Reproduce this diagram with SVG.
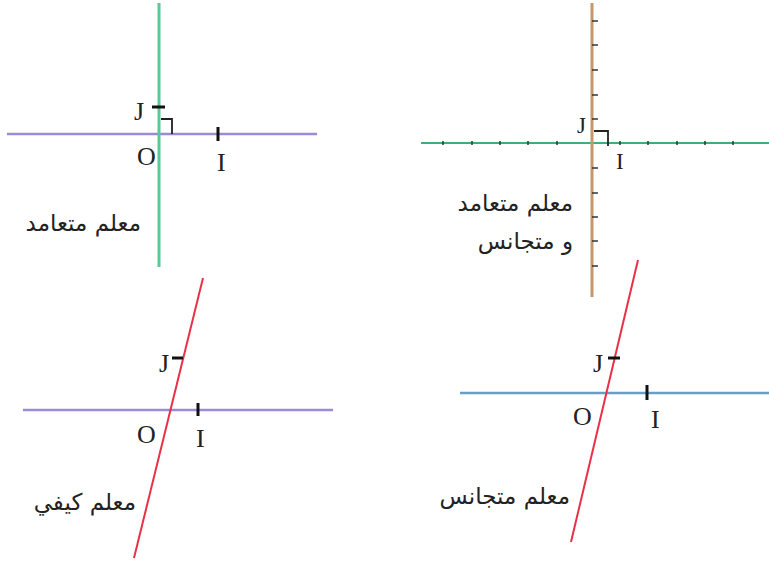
<svg xmlns="http://www.w3.org/2000/svg" width="769" height="568" viewBox="0 0 769 568">
<style>
.lbl{font-family:"Liberation Serif","Times New Roman",serif;font-size:26px;fill:#222}
.lbs{font-family:"Liberation Serif","Times New Roman",serif;font-size:23px;fill:#222}
.ar{font-family:"DejaVu Sans","Noto Sans",sans-serif;font-size:23px;fill:#222}
.tick{stroke:#111;stroke-width:3;fill:none}
.ra{stroke:#222;stroke-width:1.8;fill:none}
.sm{stroke:#333;stroke-width:1.5;fill:none}
</style>
<rect width="769" height="568" fill="#fff"/>
<g id="connectors">
  <line x1="7" y1="134" x2="317" y2="134" stroke="#9d8ad6" stroke-width="2.5"/>
  <line x1="159" y1="3" x2="159" y2="267" stroke="#5cc896" stroke-width="3"/>
  <line x1="421" y1="143" x2="769" y2="143" stroke="#3fae7f" stroke-width="2"/>
  <line x1="592" y1="3" x2="592" y2="297" stroke="#c8966b" stroke-width="3"/>
  <line x1="23" y1="410" x2="333" y2="410" stroke="#9d8ad6" stroke-width="2.5"/>
  <line x1="203" y1="278" x2="134" y2="558" stroke="#e83048" stroke-width="2"/>
  <line x1="460" y1="393" x2="769" y2="393" stroke="#6a9ec2" stroke-width="2.5"/>
  <line x1="638" y1="260" x2="571" y2="542" stroke="#e83048" stroke-width="2"/>
</g>
<g id="panel1">
  <line class="tick" x1="152" y1="107" x2="165" y2="107"/>
  <line class="tick" x1="218" y1="127" x2="218" y2="141"/>
  <polyline class="ra" points="161,119 172,119 172,134"/>
  <text class="lbl" x="134" y="120">J</text>
  <text class="lbl" x="137" y="165">O</text>
  <text class="lbl" x="217" y="171">I</text>
  <text class="ar" x="141" y="231" text-anchor="end">معلم متعامد</text>
</g>
<g id="panel2">
  <g class="sm">
    <line x1="443" y1="141" x2="443" y2="145"/>
    <line x1="472" y1="141" x2="472" y2="145"/>
    <line x1="500" y1="141" x2="500" y2="145"/>
    <line x1="528" y1="141" x2="528" y2="145"/>
    <line x1="557" y1="141" x2="557" y2="145"/>
    <line x1="620" y1="141" x2="620" y2="145"/>
    <line x1="648" y1="141" x2="648" y2="145"/>
    <line x1="677" y1="141" x2="677" y2="145"/>
    <line x1="705" y1="141" x2="705" y2="145"/>
    <line x1="733" y1="141" x2="733" y2="145"/>
    <line x1="592" y1="21" x2="598" y2="21"/>
    <line x1="592" y1="45" x2="598" y2="45"/>
    <line x1="592" y1="70" x2="598" y2="70"/>
    <line x1="592" y1="95" x2="598" y2="95"/>
    <line x1="592" y1="119" x2="598" y2="119"/>
    <line x1="592" y1="168" x2="598" y2="168"/>
    <line x1="592" y1="193" x2="598" y2="193"/>
    <line x1="592" y1="217" x2="598" y2="217"/>
    <line x1="592" y1="241" x2="598" y2="241"/>
    <line x1="592" y1="266" x2="598" y2="266"/>
  </g>
  <polyline class="ra" points="594,131 608,131 608,146"/>
  <text class="lbs" x="577" y="133">J</text>
  <text class="lbs" x="616" y="169">I</text>
  <text class="ar" x="573" y="211" text-anchor="end">معلم متعامد</text>
  <text class="ar" x="573" y="249" text-anchor="end">و متجانس</text>
</g>
<g id="panel3">
  <line class="tick" x1="172" y1="358" x2="183" y2="358"/>
  <line class="tick" x1="198" y1="403" x2="198" y2="416"/>
  <text class="lbl" x="159" y="372">J</text>
  <text class="lbl" x="137" y="443">O</text>
  <text class="lbl" x="196" y="447">I</text>
  <text class="ar" x="136" y="510" text-anchor="end">معلم كيفي</text>
</g>
<g id="panel4">
  <line class="tick" x1="608" y1="358" x2="620" y2="358"/>
  <line class="tick" x1="647" y1="385" x2="647" y2="400"/>
  <text class="lbl" x="593" y="372">J</text>
  <text class="lbl" x="573" y="425">O</text>
  <text class="lbl" x="651" y="428">I</text>
  <text class="ar" x="570" y="504" text-anchor="end">معلم متجانس</text>
</g>
</svg>
